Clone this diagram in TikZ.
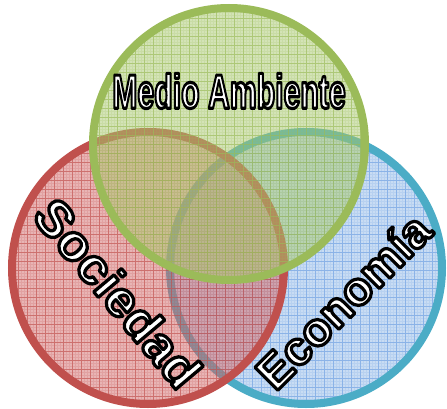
\documentclass[tikz,border=0pt]{standalone}
\usepackage{fontspec}
\setmainfont{Liberation Sans}
\definecolor{gline}{RGB}{155,187,89}
\definecolor{gfill}{RGB}{168,200,110}
\definecolor{rline}{RGB}{192,80,77}
\definecolor{rfill}{RGB}{210,105,105}
\definecolor{bline}{RGB}{75,172,198}
\definecolor{bfill}{RGB}{145,185,232}
\definecolor{bgrid}{RGB}{110,160,225}
\newcommand\outlined[1]{\special{pdf:code q 2 Tr 3.2 w 0 0 0 RG 1 j}#1\special{pdf:code Q}}
\newcommand\vennset[6]{%
  \fill[#4, fill opacity=0.5] (#2,#3) circle (136);
  \begin{scope}
    \clip (#2,#3) circle (136);
    \draw[#6, line width=0.5pt, opacity=0.18] (#2-141,#3+141) grid[step=3pt] (#2+141,#3-141);
    \draw[#6, line width=0.8pt, opacity=0.6] (#2-141,#3+141) grid[step=9pt] (#2+141,#3-141);
  \end{scope}
  \draw[#5, line width=8pt] (#2,#3) circle (136);
  \coordinate (#1) at (#2,#3);
}
\tikzset{lbl/.style={text=white, font=\bfseries, inner sep=0pt}}
\begin{document}
\begin{tikzpicture}[x=1pt,y=-1pt]
\useasboundingbox (0,0) rectangle (447,409);
\vennset{eco}{306}{268}{bfill}{bline}{bgrid}
\vennset{soc}{148}{268}{rfill}{rline}{rline}
\vennset{med}{229}{144}{gfill}{gline}{gline}
\node[lbl] (medtxt) at (229,91) {\scalebox{0.63}[1]{\fontsize{48}{48}\selectfont\outlined{Medio Ambiente}}};
\node[lbl, rotate=-50] (soctxt) at (118,293) {\scalebox{1.03}[1]{\fontsize{50}{50}\selectfont\outlined{Sociedad}}};
\node[lbl, rotate=45] (ecotxt) at (343,301) {\fontsize{47}{47}\selectfont\outlined{Economía}};
\end{tikzpicture}
\end{document}
